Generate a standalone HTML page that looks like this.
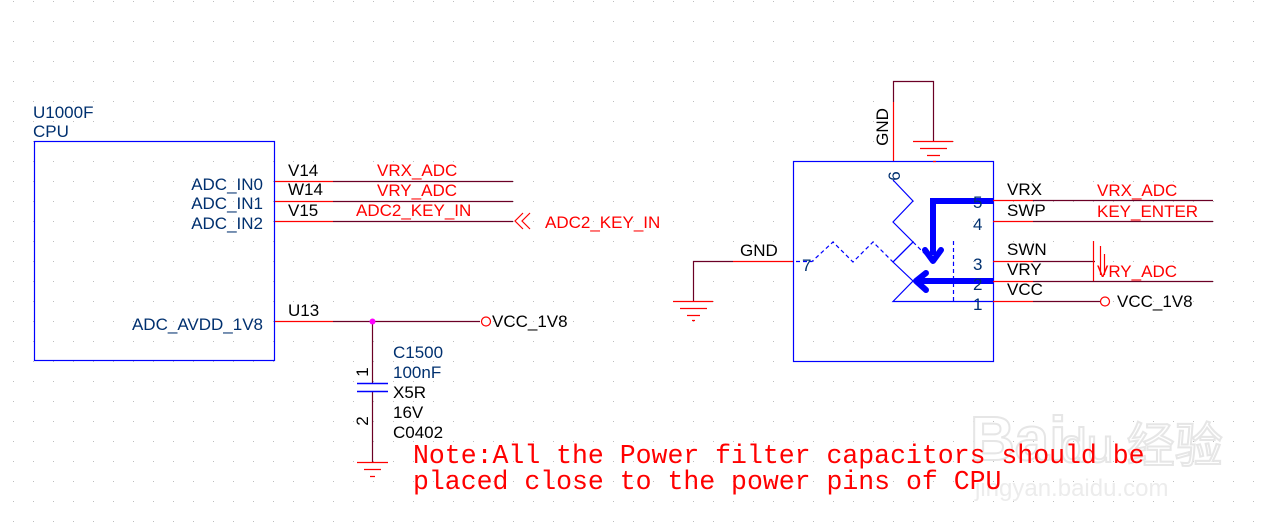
<!DOCTYPE html>
<html><head><meta charset="utf-8"><style>
html,body{margin:0;padding:0;background:#fff}
body{width:1270px;height:529px;overflow:hidden}
svg{display:block}
text{font-family:"Liberation Sans",sans-serif;font-size:17px}
.b{fill:#00306f}.r{fill:#ff0000}.k{fill:#000}
.mono{font-family:"Liberation Mono",monospace;font-size:26.5px;fill:#ff0000}
</style></head><body>
<svg width="1270" height="529" viewBox="0 0 1270 529" xmlns="http://www.w3.org/2000/svg">
<defs><pattern id="g" x="13" y="1" width="20" height="20" patternUnits="userSpaceOnUse"><rect x="0" y="0" width="1" height="1" fill="#bdbdbd"/></pattern></defs>
<rect width="1270" height="529" fill="url(#g)"/>
<!-- watermark -->
<text x="970" y="460" style="font-size:62px;font-weight:bold;fill:none;stroke:#e6e6e6;stroke-width:2">Bai</text>
<text x="1060" y="462" style="font-size:48px;fill:none;stroke:#e6e6e6;stroke-width:2">du 经验</text>
<text x="975" y="496" style="font-size:24px;fill:#ececec">jingyan.baidu.com</text>

<!-- CPU -->
<text x="33" y="118" class="b">U1000F</text>
<text x="33" y="137" class="b">CPU</text>
<rect x="34.5" y="141.5" width="240" height="219" fill="none" stroke="#0000ff" stroke-width="1.2"/>
<text x="263" y="190" class="b" text-anchor="end">ADC_IN0</text>
<text x="263" y="209" class="b" text-anchor="end">ADC_IN1</text>
<text x="263" y="229" class="b" text-anchor="end">ADC_IN2</text>
<text x="263" y="330" class="b" text-anchor="end">ADC_AVDD_1V8</text>
<g stroke-width="1.2" fill="none">
<path d="M275 181.5H333M275 201.5H333M275 221.5H333M275 321.5H333" stroke="#ff0000"/>
<path d="M333 181.5H513M333 201.5H513M333 221.5H513M333 321.5H480" stroke="#6b0025"/>
<path d="M530 213l-8 8 8 8M523 213l-8 8 8 8" stroke="#ff0000"/>
<circle cx="486" cy="321.5" r="4.5" stroke="#ff0000"/>
<path d="M372.5 321V383M372.5 391V462" stroke="#6b0025"/>
<path d="M357 383.5H388M357 391.5H388" stroke="#0000ff" stroke-width="1.5"/>
<path d="M357 462.5H388M364 469.5H381M370 476.5H375" stroke="#ff0000"/>
</g>
<circle cx="372.5" cy="321.5" r="3" fill="#ff00ff"/>
<text x="288" y="176" class="k">V14</text>
<text x="288" y="195" class="k">W14</text>
<text x="288" y="216" class="k">V15</text>
<text x="288" y="316" class="k">U13</text>
<text x="377" y="176" class="r">VRX_ADC</text>
<text x="377" y="196" class="r">VRY_ADC</text>
<text x="356" y="216" class="r">ADC2_KEY_IN</text>
<text x="545" y="228" class="r">ADC2_KEY_IN</text>
<text x="492" y="327" class="k">VCC_1V8</text>
<text transform="translate(368,372) rotate(-90)" class="k" text-anchor="middle">1</text>
<text transform="translate(368,421) rotate(-90)" class="k" text-anchor="middle">2</text>
<text x="393" y="358" class="b">C1500</text>
<text x="393" y="378" class="b">100nF</text>
<text x="393" y="398" class="k">X5R</text>
<text x="393" y="418" class="k">16V</text>
<text x="393" y="438" class="k">C0402</text>
<text x="413" y="463" class="mono">Note:All the Power filter capacitors should be</text>
<text x="413" y="489" class="mono">placed close to the power pins of CPU</text>

<!-- right component -->
<rect x="793.5" y="161.5" width="200" height="200" fill="none" stroke="#0000ff" stroke-width="1.2"/>
<g fill="none" stroke-width="1.2">
<path d="M893.5 102V161" stroke="#ff0000"/>
<path d="M893.5 102V81.5H933.5V141" stroke="#6b0025"/>
<path d="M913 141.5H953M920 148.5H947M927 155.5H940M933 161.5H936" stroke="#ff0000"/>
<path d="M733 261.5H793" stroke="#ff0000"/>
<path d="M733 261.5H693.5V301" stroke="#6b0025"/>
<path d="M673 301.5H713M680 308.5H707M687 315.5H700M692 320.5H695" stroke="#ff0000"/>
<path d="M993 200.5H1033M993 221.5H1033M993 261.5H1033M993 281.5H1033M993 301.5H1033" stroke="#ff0000"/>
<path d="M1033 200.5H1213M1033 221.5H1213M1033 261.5H1095M1033 281.5H1213M1033 301.5H1100" stroke="#6b0025"/>
<circle cx="1105" cy="301.5" r="4.5" stroke="#ff0000"/>
<path d="M1093.5 241V281M1100.5 246V275M1104.5 254V275" stroke="#ff0000"/>
<path d="M893 180L913 201L893 222L913 242L893 262L913 281L893 301.5H993" stroke="#0000ff"/>
<path d="M893 262L913 242" stroke="#0000ff"/>
<path d="M796 261.5H812L833 242L853 262L873 242L893 262M913 242L933 262M953.5 241V301" stroke="#0000ff" stroke-dasharray="4 3"/>
<path d="M993 201H933V255" stroke="#0000ff" stroke-width="6"/>
<path d="M925 250L933 261L941 250" stroke="#0000ff" stroke-width="6" stroke-linecap="round" stroke-linejoin="round"/>
<path d="M993 281H918" stroke="#0000ff" stroke-width="6"/>
<path d="M926 273L916 281L926 290" stroke="#0000ff" stroke-width="6" stroke-linecap="round" stroke-linejoin="round"/>
</g>
<text transform="translate(888,127) rotate(-90)" class="k" text-anchor="middle">GND</text>
<text transform="translate(900,176) rotate(-90)" class="b" text-anchor="middle">6</text>
<text x="740" y="256" class="k">GND</text>
<text x="802" y="271" class="b">7</text>
<text x="973" y="208" class="b">5</text>
<text x="973" y="230" class="b">4</text>
<text x="973" y="270" class="b">3</text>
<text x="973" y="290" class="b">2</text>
<text x="973" y="310" class="b">1</text>
<text x="1007" y="195" class="k">VRX</text>
<text x="1007" y="216" class="k">SWP</text>
<text x="1007" y="255" class="k">SWN</text>
<text x="1007" y="275" class="k">VRY</text>
<text x="1007" y="295" class="k">VCC</text>
<text x="1097" y="196" class="r">VRX_ADC</text>
<text x="1097" y="217" class="r">KEY_ENTER</text>
<text x="1097" y="277" class="r">VRY_ADC</text>
<text x="1117" y="307" class="k">VCC_1V8</text>
</svg>
</body></html>
